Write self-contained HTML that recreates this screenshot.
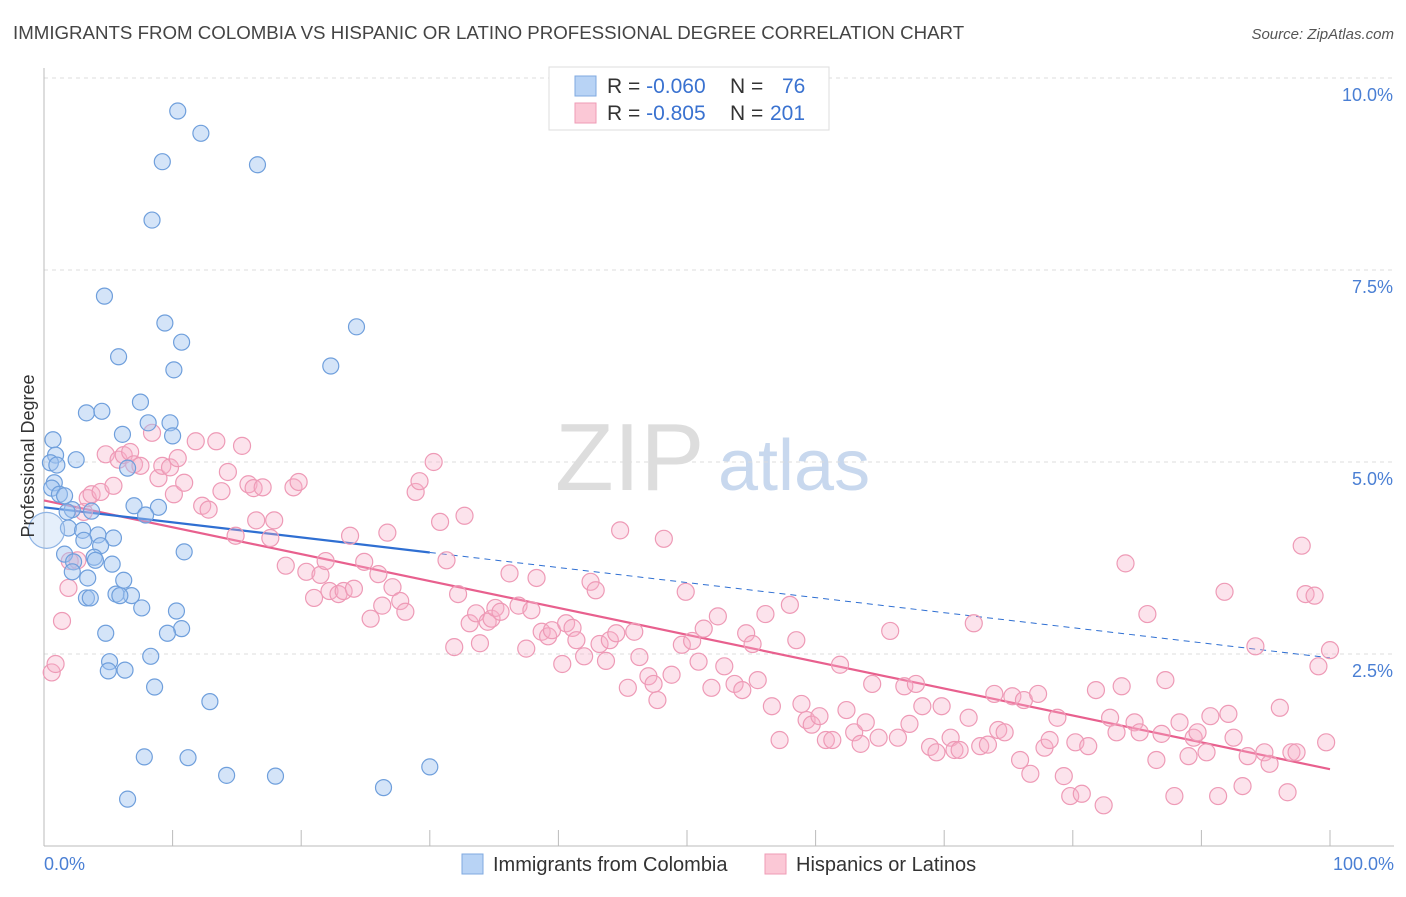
<!DOCTYPE html>
<html><head><meta charset="utf-8"><style>
body{margin:0;background:#fff;font-family:"Liberation Sans",sans-serif;}
svg text{font-family:"Liberation Sans",sans-serif;}
</style></head><body>
<svg id="chart" width="1406" height="892">
<text x="13" y="39" font-size="18.7" fill="#444">IMMIGRANTS FROM COLOMBIA VS HISPANIC OR LATINO PROFESSIONAL DEGREE CORRELATION CHART</text>
<text x="1394" y="39" font-size="15" fill="#555" font-style="italic" text-anchor="end">Source: ZipAtlas.com</text>
<g><text x="555" y="490" font-size="96" fill="#ddd" font-family="Liberation Serif" >ZIP</text><text x="718" y="490" font-size="72" fill="#c8d8ee">atlas</text></g>
<g id="grid"></g><g id="axes"></g><g id="trend"></g><g id="pts"></g>
<text transform="translate(34,456) rotate(-90)" font-size="18" fill="#333" text-anchor="middle">Professional Degree</text>
<g>
<rect x="549" y="67" width="280" height="63" fill="#fff" stroke="#ddd"/>
<rect x="575" y="76" width="21" height="20" fill="#b8d3f5" stroke="#7fa9e0"/>
<rect x="575" y="103" width="21" height="20" fill="#fbc8d6" stroke="#ef9bb6"/>
<text x="607" y="93" font-size="21" fill="#333">R = <tspan fill="#3a72d0">-0.060</tspan><tspan x="730">N = </tspan><tspan x="782" fill="#3a72d0">76</tspan></text>
<text x="607" y="120" font-size="21" fill="#333">R = <tspan fill="#3a72d0">-0.805</tspan><tspan x="730">N = </tspan><tspan x="770" fill="#3a72d0">201</tspan></text>
</g>
<g>
<rect x="462" y="854" width="21" height="20" fill="#b8d3f5" stroke="#7fa9e0"/>
<text x="493" y="871" font-size="20" fill="#333">Immigrants from Colombia</text>
<rect x="765" y="854" width="21" height="20" fill="#fbc8d6" stroke="#ef9bb6"/>
<text x="796" y="871" font-size="20" fill="#333">Hispanics or Latinos</text>
</g>
</svg>
<script>
const yTicks=[2.5,5.0,7.5,10.0];
const xTickLabels=["0.0%","100.0%"];
const blueX=[10.4,12.2,9.2,16.6,8.4,4.7,9.4,24.3,10.7,5.8,22.3,10.1,7.5,3.3,4.5,8.1,9.8,0.7,6.1,10.0,0.9,0.5,2.5,1.0,6.5,0.8,0.6,1.2,1.6,2.2,1.8,3.7,7.0,8.9,7.9,1.9,3.0,4.2,5.4,3.1,4.4,1.6,3.9,10.9,2.3,4.0,5.3,2.2,3.4,6.2,5.6,6.8,3.3,3.6,5.9,7.6,10.3,10.7,4.8,9.6,8.3,5.1,5.0,6.3,8.6,12.9,7.8,11.2,14.2,18.0,30.0,26.4,6.5];
const blueY=[9.57,9.28,8.91,8.87,8.15,7.16,6.81,6.76,6.56,6.37,6.25,6.20,5.78,5.64,5.66,5.51,5.51,5.29,5.36,5.34,5.09,4.99,5.03,4.96,4.92,4.73,4.66,4.58,4.56,4.38,4.35,4.36,4.43,4.41,4.31,4.14,4.11,4.05,4.01,3.98,3.91,3.80,3.76,3.83,3.70,3.72,3.67,3.57,3.49,3.46,3.28,3.26,3.23,3.23,3.26,3.10,3.06,2.83,2.77,2.77,2.47,2.40,2.28,2.29,2.07,1.88,1.16,1.15,0.92,0.91,1.03,0.76,0.61];
const pinkX=[0.6,0.9,1.4,1.9,2.0,2.6,3.1,3.4,3.7,4.4,4.8,5.4,5.8,6.2,6.7,7.0,7.5,8.4,8.9,9.2,9.8,10.1,10.4,10.9,11.8,12.3,12.8,13.4,13.8,14.3,14.9,15.4,15.9,16.3,16.5,17.0,17.6,17.9,18.8,19.4,19.8,20.4,21.0,21.5,21.9,22.2,22.9,23.3,23.8,24.1,24.9,25.4,26.0,26.3,26.7,27.1,27.7,28.1,28.9,29.2,30.3,30.8,31.3,31.9,32.2,32.7,33.1,33.6,33.9,34.5,34.8,35.1,35.5,36.2,36.9,37.5,37.9,38.3,38.7,39.2,39.5,40.3,40.6,41.1,41.4,42.0,42.5,42.9,43.2,43.7,44.0,44.5,44.8,45.4,45.9,46.3,47.0,47.4,47.7,48.2,48.8,49.6,49.9,50.4,50.9,51.3,51.9,52.4,52.9,53.7,54.3,54.6,55.1,55.5,56.1,56.6,57.2,58.0,58.5,58.9,59.3,59.7,60.3,60.8,61.3,61.9,62.4,63.0,63.5,63.9,64.4,64.9,65.8,66.4,66.9,67.3,67.8,68.3,68.9,69.4,69.8,70.5,70.8,71.2,71.9,72.3,72.8,73.4,73.9,74.2,74.7,75.3,75.9,76.2,76.7,77.3,77.8,78.2,78.8,79.3,79.8,80.2,80.7,81.2,81.8,82.4,82.9,83.4,83.8,84.1,84.8,85.2,85.8,86.5,86.9,87.2,87.9,88.3,89.0,89.4,89.7,90.4,90.7,91.3,91.8,92.1,92.5,93.2,93.6,94.2,94.9,95.3,96.1,96.7,97.0,97.4,97.8,98.1,98.8,99.1,99.7,100];
const pinkY=[2.26,2.37,2.93,3.36,3.71,3.72,4.35,4.53,4.58,4.61,5.10,4.69,5.03,5.09,5.13,4.97,4.95,5.38,4.79,4.95,4.93,4.58,5.05,4.73,5.27,4.43,4.38,5.27,4.62,4.87,4.04,5.21,4.71,4.66,4.24,4.67,4.01,4.24,3.65,4.67,4.74,3.57,3.23,3.53,3.71,3.32,3.28,3.32,4.04,3.35,3.70,2.96,3.54,3.13,4.08,3.37,3.19,3.05,4.61,4.75,5.00,4.22,3.72,2.59,3.28,4.30,2.90,3.03,2.64,2.92,2.96,3.10,3.05,3.55,3.13,2.57,3.07,3.49,2.79,2.73,2.81,2.37,2.90,2.84,2.68,2.47,3.44,3.33,2.63,2.41,2.68,2.77,4.11,2.06,2.79,2.46,2.21,2.11,1.90,4.00,2.23,2.62,3.31,2.67,2.40,2.83,2.06,2.99,2.34,2.11,2.03,2.77,2.63,2.16,3.02,1.82,1.38,3.14,2.68,1.85,1.64,1.58,1.69,1.38,1.38,2.36,1.77,1.48,1.33,1.61,2.11,1.41,2.80,1.41,2.08,1.59,2.11,1.82,1.29,1.22,1.82,1.41,1.25,1.25,1.67,2.90,1.30,1.32,1.98,1.51,1.48,1.95,1.12,1.90,0.94,1.98,1.28,1.38,1.67,0.91,0.65,1.35,0.68,1.30,2.03,0.53,1.67,1.48,2.08,3.68,1.61,1.48,3.02,1.12,1.46,2.16,0.65,1.61,1.17,1.41,1.48,1.22,1.69,0.65,3.31,1.72,1.41,0.78,1.17,2.60,1.22,1.07,1.80,0.70,1.22,1.22,3.91,3.28,3.26,2.34,1.35,2.55];
const blueTrend=[4.41,2.45];
const pinkTrend=[4.50,1.00];

const NS="http://www.w3.org/2000/svg";
const X=v=>44+v*12.86;
const Y=v=>846-v*76.8;
function mk(tag,attrs,parent){const e=document.createElementNS(NS,tag);for(const k in attrs)e.setAttribute(k,attrs[k]);document.getElementById(parent).appendChild(e);return e;}
yTicks.forEach(t=>{
  const g=mk('line',{x1:44,x2:1394,y1:Y(t),y2:Y(t),stroke:'#ddd','stroke-dasharray':'4,4'},'grid');
  
  
  const l=mk('text',{x:1393,y:Y(t)+23,'font-size':18,fill:'#4a7fd4','text-anchor':'end'},'axes');
  l.textContent=t.toFixed(1)+'%';
  
  
});
const ya=mk('line',{x1:44,x2:44,y1:68,y2:846,stroke:'#bbb'},'axes');


const xa=mk('line',{x1:44,x2:1394,y1:846,y2:846,stroke:'#bbb'},'axes');


for(let i=0;i<=10;i++){const t=mk('line',{x1:X(i*10),x2:X(i*10),y1:830,y2:846,stroke:'#bbb'},'axes');
  
  }
[[44,'start',0],[1394,'end',1]].forEach(([x,a,i])=>{const t=mk('text',{x:x,y:870,'font-size':18,fill:'#4a7fd4','text-anchor':a},'axes');t.textContent=xTickLabels[i];
  
  });
function line(a,b,x0,x1,col,dash,name){const l=mk('line',{x1:X(x0),x2:X(x1),y1:Y(a+(b-a)*x0/100),y2:Y(a+(b-a)*x1/100),stroke:col,'stroke-width':dash?1:2.2,'stroke-dasharray':dash?'6,5':'none'},'trend');
  
  }
line(pinkTrend[0],pinkTrend[1],0,100,'#e8608e',false,'hispanic-trendline');
line(blueTrend[0],blueTrend[1],0,30,'#2f6fd2',false,'colombia-trendline');
line(blueTrend[0],blueTrend[1],30,100,'#2f6fd2',true,'colombia-trendline-extension');
pinkX.forEach((x,i)=>{const c=mk('circle',{cx:X(x),cy:Y(pinkY[i]),r:8.5,fill:'rgba(247,176,200,0.35)',stroke:'#ee9ab6','stroke-width':1.2},'pts');
  
  });
blueX.forEach((x,i)=>{const c=mk('circle',{cx:X(x),cy:Y(blueY[i]),r:8,fill:'rgba(160,196,240,0.45)',stroke:'#6f9fdc','stroke-width':1.2},'pts');
  
  });
const big=mk('circle',{cx:X(0.2),cy:Y(4.11),r:18,fill:'rgba(180,208,244,0.35)',stroke:'#8fb4e4','stroke-width':1.2},'pts');


</script>
</body></html>
